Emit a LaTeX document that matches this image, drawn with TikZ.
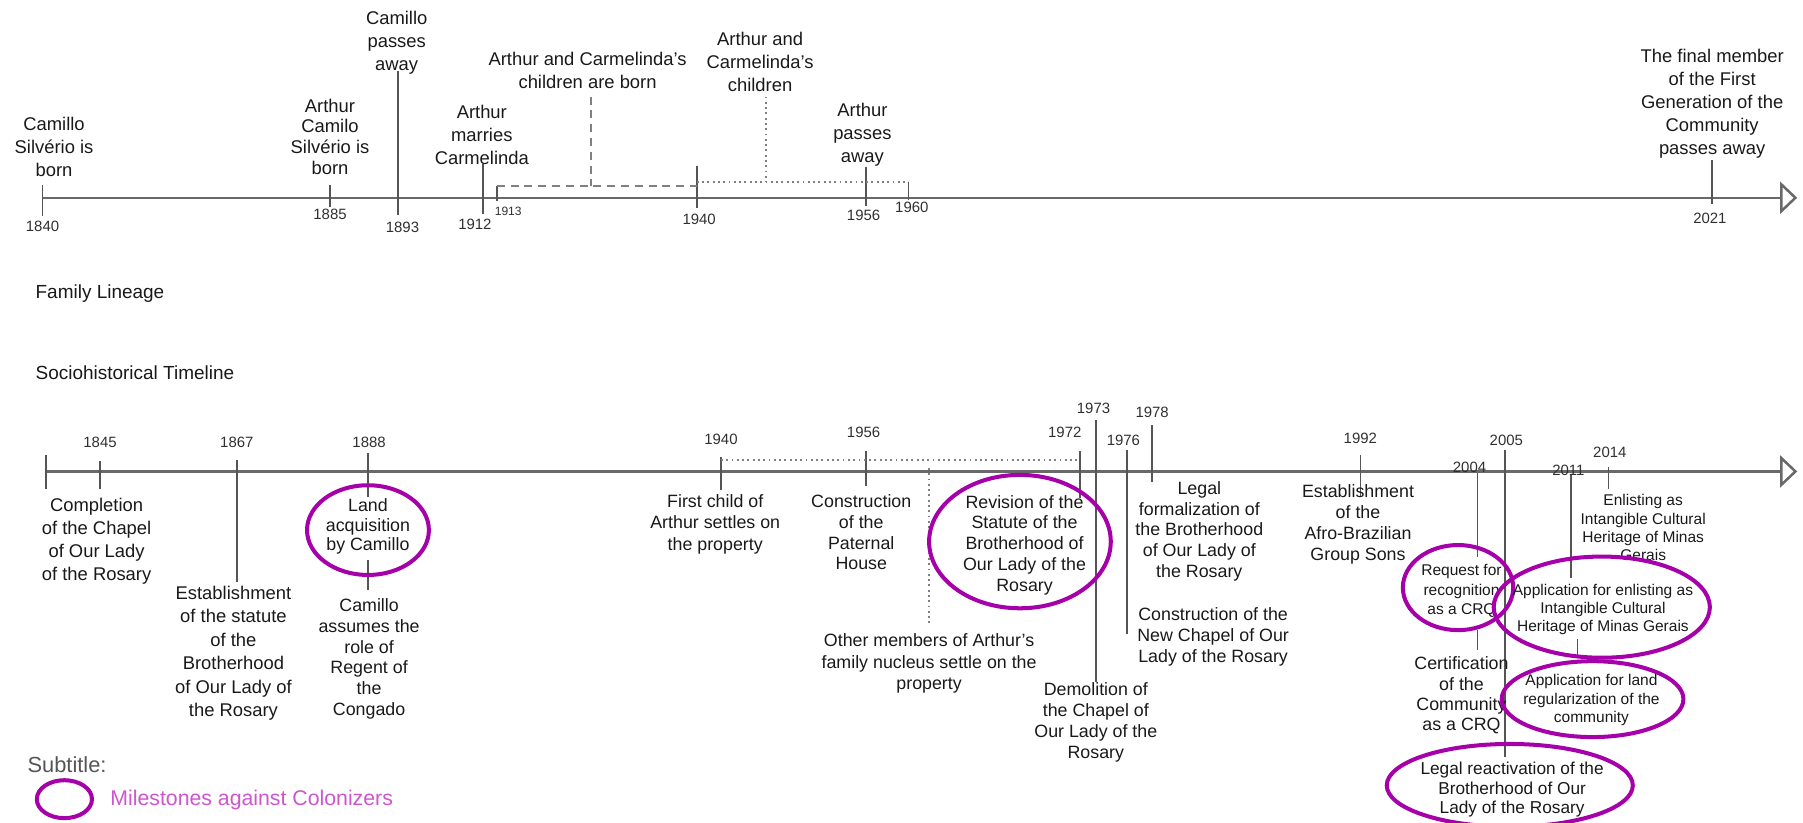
\documentclass[tikz,border=0pt]{standalone}
\usepackage{fontspec}
\setmainfont{Liberation Sans}
\usetikzlibrary{arrows.meta,shapes.geometric}
\definecolor{mpurple}{RGB}{165,0,170}
\definecolor{mlegend}{RGB}{205,85,205}
\definecolor{axisgray}{RGB}{105,105,105}
\definecolor{tickgray}{RGB}{85,85,85}
\definecolor{textc}{RGB}{25,25,25}
\definecolor{subgray}{RGB}{85,85,85}
\begin{document}
\begin{tikzpicture}[x=1pt,y=-1pt,
  every node/.style={inner sep=0pt, outer sep=0pt},
  lbl/.style={align=center, text=textc, font=\fontsize{16}{20}\selectfont},
  lbls/.style={align=center, text=textc, font=\fontsize{15.5}{18.2}\selectfont},
  lblxs/.style={align=center, text=textc, font=\fontsize{13.5}{16}\selectfont},
  yr/.style={text=textc!90, font=\fontsize{13}{13}\selectfont},
  axisline/.style={draw=axisgray, line width=2.2pt, -{Triangle[open,length=15pt,width=28pt]}},
  tick/.style={draw=tickgray, line width=1.4pt},
  dashline/.style={draw=gray, line width=1.6pt, dash pattern=on 7pt off 5pt},
  dotline/.style={draw=gray, line width=1.6pt, dash pattern=on 1.6pt off 3pt},
  mile/.style={ellipse, draw=mpurple, line width=3.5pt},
]
\useasboundingbox (0,0) rectangle (1568,715);

% ---------- axes ----------
\coordinate (topS) at (37,172);
\coordinate (topE) at (1563,172);
\coordinate (botS) at (40,410);
\coordinate (botE) at (1563,410);
\draw[axisline] (topS) -- (topE);
\draw[axisline] (botS) -- (botE);

% ---------- ticks ----------
\foreach \n/\x/\ya/\yb in {
  t1840/37/161/188, t1885/287/161/180, t1893/346/62/187, t1912/420/143/186,
  t1913/432/162/175, t1940/606/144/181, t1956/753/145/179, t1960/790/158/174,
  t2021/1489/139/177,
  b1840/40/396/425, b1845/87/401/425, b1867/206/400/506, b1888a/320/394/432,
  b1888b/320/487/513, b1940/627/397/426, b1956/753/392/423, b1972/939/392/433,
  b1973/953/365/593, b1976/980/391/551, b1978/1002/370/419, b1992/1183/396/432,
  b2004a/1285/411/484, b2004b/1285/548/565, b2005/1309/391/658,
  b2011/1366/413/503, b2014/1399/406/425, bApp/1372/556/571}{
  \coordinate (\n a) at (\x,\ya);
  \coordinate (\n b) at (\x,\yb);
  \draw[tick] (\n a) -- (\n b);
}

% ---------- dashed / dotted spans ----------
\coordinate (d1) at (432,162); \coordinate (d2) at (606,162);
\coordinate (d3) at (514,84);  \coordinate (d4) at (514,162);
\draw[dashline] (d1) -- (d2);
\draw[dashline] (d3) -- (d4);
\coordinate (o1) at (606,158); \coordinate (o2) at (790,158);
\coordinate (o3) at (666,84);  \coordinate (o4) at (666,158);
\draw[dotline] (o1) -- (o2);
\draw[dotline] (o3) -- (o4);
\coordinate (p1) at (627,400); \coordinate (p2) at (939,400);
\coordinate (p3) at (808,407); \coordinate (p4) at (808,542);
\draw[dotline] (p1) -- (p2);
\draw[dotline] (p3) -- (p4);

% ---------- years ----------
\foreach \n/\x/\y/\t in {
  ty1840/37/197/1840, ty1885/287/186/1885, ty1893/350/198/1893, ty1912/413/195/1912,
  ty1940/608/191/1940, ty1956/751/187/1956, ty1960/793/180/1960, ty2021/1487/190/2021,
  by1845/87/385/1845, by1867/206/385/1867, by1888/321/385/1888, by1940/627/382/1940,
  by1956/751/376/1956, by1972/926/376/1972, by1973/951/355/1973, by1976/977/383/1976,
  by1978/1002/359/1978, by1992/1183/381/1992, by2004/1278/406/2004, by2005/1310/383/2005,
  by2011/1364/409/2011, by2014/1400/393/2014}{
  \node[yr] (\n) at (\x,\y) {\t};
}
\node[yr, font=\fontsize{10.5}{10.5}\selectfont] (ty1913) at (442,184) {1913};

% ---------- top texts ----------
\node[lbl] (tCam) at (47,128) {Camillo\\Silvério is\\born};
\node[lbl, font=\fontsize{16}{18.2}\selectfont] (tArt) at (287,119) {Arthur\\Camilo\\Silvério is\\born};
\node[lbl] (tCamD) at (345,37) {Camillo\\passes\\away};
\node[lbl] (tMar) at (419,117) {Arthur\\marries\\Carmelinda};
\node[lbl] (tKids) at (511,61) {Arthur and Carmelinda's\\children are born};
\node[lbl] (tKids2) at (661,54) {Arthur and\\Carmelinda's\\children};
\node[lbl] (tArtD) at (750,117) {Arthur\\passes\\away};
\node[lbl] (tFinal) at (1489,90) {The final member\\of the First\\Generation of the\\Community\\passes away};

% ---------- section titles ----------
\node[anchor=west, text=textc, font=\fontsize{16.5}{20}\selectfont] (famL) at (31,255) {Family Lineage};
\node[anchor=west, text=textc, font=\fontsize{16.5}{20}\selectfont] (socT) at (31,324) {Sociohistorical Timeline};

% ---------- bottom texts ----------
\node[lbl] (bCompl) at (84,471) {Completion\\of the Chapel\\of Our Lady\\of the Rosary};
\node[lbl, font=\fontsize{16}{20.4}\selectfont] (bEstab) at (203,568) {Establishment\\of the statute\\of the\\Brotherhood\\of Our Lady of\\the Rosary};
\node[mile, minimum width=106pt, minimum height=78pt] (eLand) at (320,461) {};
\node[lbls, font=\fontsize{15.5}{17}\selectfont] (bLand) at (320,458) {Land\\acquisition\\by Camillo};
\node[lbls] (bRegent) at (321,573) {Camillo\\assumes the\\role of\\Regent of\\the\\Congado};
\node[lbls, font=\fontsize{15.5}{19}\selectfont] (bFirst) at (622,456) {First child of\\Arthur settles on\\the property};
\node[lbls, font=\fontsize{15.5}{18}\selectfont] (bPat) at (749,463) {Construction\\of the\\Paternal\\House};
\node[lbls, font=\fontsize{15.5}{19}\selectfont] (bOther) at (808,577) {Other members of Arthur's\\family nucleus settle on the\\property};
\node[mile, minimum width=158pt, minimum height=116pt] (eRev) at (887,471) {};
\node[lbls, font=\fontsize{15.5}{18}\selectfont] (bRev) at (891,474) {Revision of the\\Statute of the\\Brotherhood of\\Our Lady of the\\Rosary};
\node[lbls] (bDemol) at (953,628) {Demolition of\\the Chapel of\\Our Lady of the\\Rosary};
\node[lbls, font=\fontsize{15.5}{18}\selectfont] (bLegal) at (1043,462) {Legal\\formalization of\\the Brotherhood\\of Our Lady of\\the Rosary};
\node[lbls, font=\fontsize{15.5}{18}\selectfont] (bNew) at (1055,554) {Construction of the\\New Chapel of Our\\Lady of the Rosary};
\node[lbls, font=\fontsize{15.5}{18}\selectfont] (bAfro) at (1181,456) {Establishment\\of the\\Afro-Brazilian\\Group Sons};
\node[mile, minimum width=96pt, minimum height=74pt] (eReq) at (1268,511) {};
\node[lblxs, font=\fontsize{13.5}{17}\selectfont] (bReq) at (1271,514) {Request for\\recognition\\as a CRQ};
\node[lbls, font=\fontsize{15.5}{17.7}\selectfont] (bCert) at (1271,605) {Certification\\of the\\Community\\as a CRQ};
\node[lblxs] (bEnl) at (1429,459) {Enlisting as\\Intangible Cultural\\Heritage of Minas\\Gerais};
\node[mile, minimum width=188pt, minimum height=88pt] (eAppE) at (1393,528) {};
\node[lblxs, font=\fontsize{13.5}{15.5}\selectfont] (bAppE) at (1394,530) {Application for enlisting as\\Intangible Cultural\\Heritage of Minas Gerais};
\node[mile, minimum width=158pt, minimum height=66pt] (eAppL) at (1385,608) {};
\node[lblxs] (bAppL) at (1384,609) {Application for land\\regularization of the\\community};
\node[mile, minimum width=214pt, minimum height=72pt] (eReact) at (1313,683) {};
\node[lblxs, font=\fontsize{15}{17}\selectfont] (bReact) at (1315,687) {Legal reactivation of the\\Brotherhood of Our\\Lady of the Rosary};

% ---------- legend ----------
\node[anchor=west, text=subgray, font=\fontsize{19}{22}\selectfont] (legT) at (24,665) {Subtitle:};
\node[mile, minimum width=48pt, minimum height=33pt] (legE) at (56,695) {};
\node[anchor=west, text=mlegend, font=\fontsize{18.5}{22}\selectfont] (legM) at (96,696) {Milestones against Colonizers};
\end{tikzpicture}
\end{document}
